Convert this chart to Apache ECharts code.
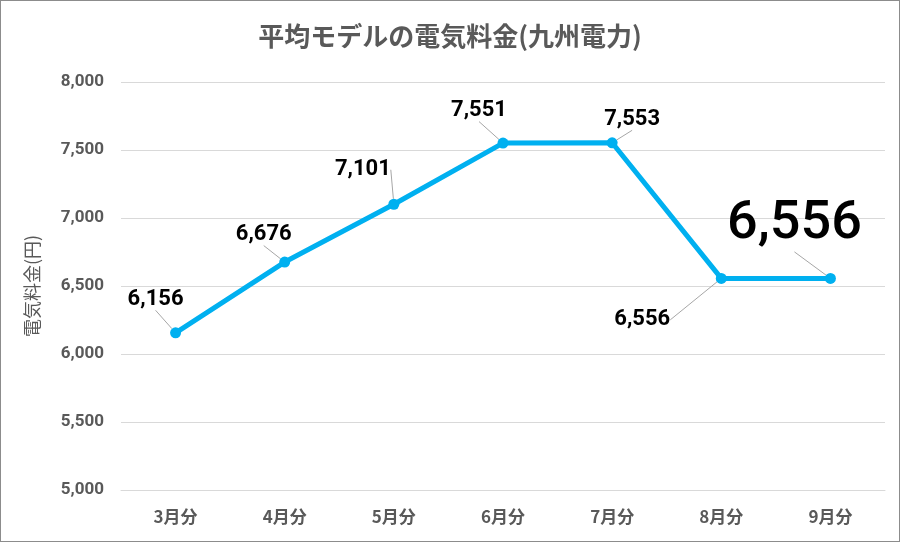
<!DOCTYPE html>
<html><head><meta charset="utf-8">
<script src="https://cdn.jsdelivr.net/npm/echarts@6/dist/echarts.min.js"></script>
<style>html,body{margin:0;padding:0;background:#fff}#c{width:900px;height:542px;box-sizing:border-box;border:1px solid #8c8c8c}</style>
</head><body><div id="c"></div>
<script>
var categories = ['3月分','4月分','5月分','6月分','7月分','8月分','9月分'];
var values = [6156, 6676, 7101, 7551, 7553, 6556, 6556];
var yTicks = {min: 5000, max: 8000, interval: 500};
var titleText = '平均モデルの電気料金(九州電力)';
var yName = '電気料金(円)';

var labelShift = [[-20,-12],[-21,-6],[-31,-13],[-24,-11],[20,-2],[-79,63],[-36,-16]];
var chart = echarts.init(document.getElementById('c'));
var font = '"Noto Sans CJK JP", sans-serif';
chart.setOption({
  animation: false,
  title: {text: titleText, left: 'center', top: 17, textStyle: {fontFamily: font, fontSize: 26, fontWeight: 'bold', color: '#595959'}},
  grid: {left: 120, right: 14, top: 81, bottom: 51},
  xAxis: {type: 'category', data: categories,
    axisLine: {lineStyle: {color: '#d9d9d9', width: 1}}, axisTick: {show: false},
    axisLabel: {color: '#595959', fontFamily: font, fontWeight: 'bold', fontSize: 17, margin: 18}},
  yAxis: {type: 'value', min: yTicks.min, max: yTicks.max, interval: yTicks.interval,
    name: yName, nameLocation: 'middle', nameGap: 80,
    nameTextStyle: {color: '#595959', fontFamily: font, fontSize: 18},
    axisLine: {show: false}, axisTick: {show: false},
    splitLine: {lineStyle: {color: '#d9d9d9'}},
    axisLabel: {color: '#595959', fontFamily: 'Roboto, sans-serif', fontWeight: 'bold', fontSize: 17, margin: 17,
      formatter: function(v){return v.toLocaleString('en-US');}}},
  series: [{
    type: 'line', data: values.map(function(v, i){
      var big = i === values.length - 1;
      return {value: v, label: {fontSize: big ? 54 : 22, fontWeight: big ? 500 : 'bold'}};
    }),
    symbol: 'circle', symbolSize: 11,
    lineStyle: {color: '#00b0f0', width: 5},
    itemStyle: {color: '#00b0f0'},
    label: {show: true, position: 'top', color: '#000', fontFamily: 'Roboto, sans-serif',
      formatter: function(p){return p.value.toLocaleString('en-US');}},
    labelLine: {show: true, lineStyle: {color: '#a6a6a6', width: 1}},
    labelLayout: function(p){var s = labelShift[p.dataIndex]; return {dx: s[0], dy: s[1]};}
  }]
});
</script></body></html>
